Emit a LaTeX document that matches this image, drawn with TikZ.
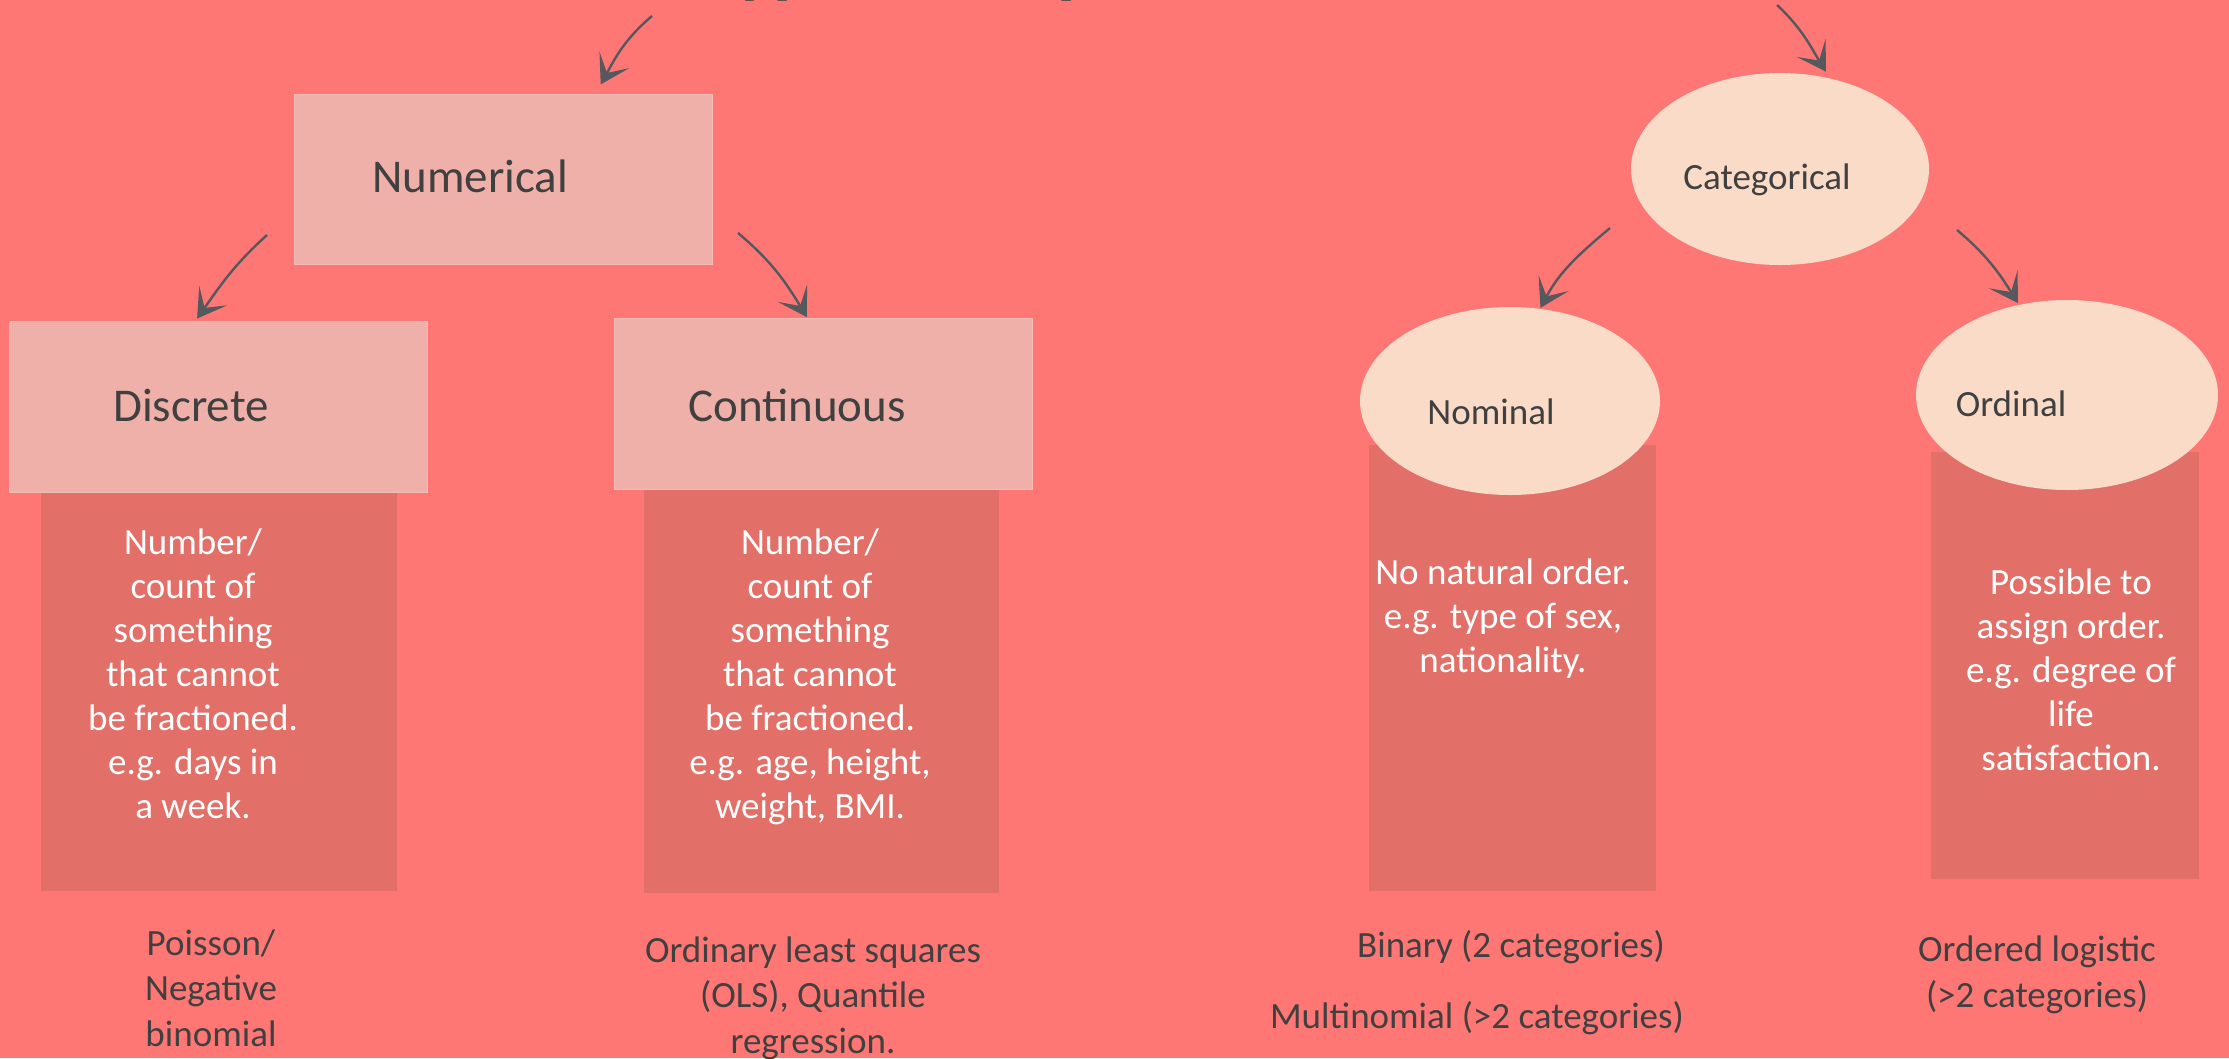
\documentclass[tikz,border=0pt]{standalone}
\usepackage{fontspec}
\setmainfont{Carlito}
\usetikzlibrary{arrows.meta,shapes.geometric,calc}
\definecolor{bg}{HTML}{FF7774}
\definecolor{hdr}{HTML}{F0B0AA}
\definecolor{desc}{HTML}{E27068}
\definecolor{ell}{HTML}{F9DBC8}
\definecolor{ink}{HTML}{404040}
\definecolor{arrc}{HTML}{55585C}
\tikzset{
  hdrbox/.style={fill=hdr, draw=hdr!85!white, line width=0.8pt, inner sep=0pt, anchor=north west},
  descbox/.style={fill=desc, inner sep=0pt, anchor=north west},
  ellbox/.style={ellipse, fill=ell, inner sep=0pt},
  fbig/.style={font=\fontsize{47}{57}\selectfont, text=ink, inner sep=0pt, anchor=base},
  fmid/.style={font=\fontsize{37}{44}\selectfont, text=ink, inner sep=0pt, anchor=base},
  fwhite/.style={font=\fontsize{37}{44}\selectfont, text=white, align=center, inner sep=0pt, anchor=base},
  fbottom/.style={font=\fontsize{37}{45.5}\selectfont, text=ink, align=center, inner sep=0pt, anchor=base},
  arrw/.style={draw=arrc, line width=2.4pt, -{Stealth[length=28pt,width=34pt,inset=15pt]}},
}
\begin{document}
\begin{tikzpicture}[x=1pt,y=-1pt]
\useasboundingbox (0,0) rectangle (2229,1058);
\fill[bg] (0,0) rectangle (2229,1058);

% title (mostly outside the picture)
\node[anchor=base west, font=\bfseries\fontsize{75}{90}\selectfont, text=ink, inner sep=0pt] (title) at (703,-11) {Types of dependent variable};

% description panels
\node[descbox, minimum width=356pt, minimum height=399pt] (descD) at (41,492) {};
\node[descbox, minimum width=355pt, minimum height=404pt] (descC) at (644,489) {};
\node[descbox, minimum width=287pt, minimum height=446pt] (descN) at (1369,445) {};
\node[descbox, minimum width=268pt, minimum height=427pt] (descO) at (1931,452) {};

% header boxes
\node[hdrbox, minimum width=418pt, minimum height=170pt] (num) at (294,94) {};
\node[hdrbox, minimum width=418pt, minimum height=171pt] (disc) at (9,321) {};
\node[hdrbox, minimum width=418pt, minimum height=171pt] (cont) at (614,318) {};

% ellipses
\node[ellbox, minimum width=298pt, minimum height=192pt] (cat) at (1780,169) {};
\node[ellbox, minimum width=300pt, minimum height=188pt] (nom) at (1510,401) {};
\node[ellbox, minimum width=302pt, minimum height=190pt] (ord) at (2067,395) {};

% header texts
\node[fbig] (numT) at (470,192) {Numerical};
\node[fbig] (discT) at (191,421) {Discrete};
\node[fbig] (contT) at (797,421) {Continuous};
\node[fmid] (catT) at (1767,189) {Categorical};
\node[fmid] (nomT) at (1491,424) {Nominal};
\node[fmid] (ordT) at (2011,416) {Ordinal};

% description texts (anchor = baseline of last line)
\node[fwhite] (dD) at (193,818) {Number/\\count of\\something\\that cannot\\be fractioned.\\e.g. days in\\a week.};
\node[fwhite] (dC) at (810,818) {Number/\\count of\\something\\that cannot\\be fractioned.\\e.g. age, height,\\weight, BMI.};
\node[fwhite] (dN) at (1503,672) {No natural order.\\e.g. type of sex,\\nationality.};
\node[fwhite] (dO) at (2071,770) {Possible to\\assign order.\\e.g. degree of\\life\\satisfaction.};

% bottom labels
\node[fbottom] (bD) at (211,1046) {Poisson/\\Negative\\binomial};
\node[fbottom] (bC) at (813,1053) {Ordinary least squares\\(OLS), Quantile\\regression.};
\node[fbottom] (bN1) at (1511,957) {Binary (2 categories)};
\node[fbottom] (bN2) at (1477,1028) {Multinomial (>2 categories)};
\node[fbottom] (bO) at (2037,1007) {Ordered logistic\\(>2 categories)};

% arrows
\coordinate (t1) at (652,16);
\coordinate (t2) at (1777,5);
\coordinate (t3) at (267,235);
\coordinate (t4) at (738,233);
\coordinate (t5) at (1610,228);
\coordinate (t6) at (1957,230);
\draw[arrw, shorten >=11pt] (t1) to[out=220,in=61] ([xshift=92pt]num.north);
\draw[arrw, shorten >=8pt] (t2) to[out=-43,in=122] (cat.61);
\draw[arrw, shorten >=3pt] (t3) to[out=222,in=55] ([xshift=-23pt]disc.north);
\draw[arrw, shorten >=1pt] (t4) to[out=-40,in=121] ([xshift=-16pt]cont.north);
\draw[arrw, shorten >=1pt] (t5) to[out=220,in=62] (nom.72);
\draw[arrw, shorten >=2pt] (t6) to[out=-40,in=122] (ord.118);
\end{tikzpicture}
\end{document}
